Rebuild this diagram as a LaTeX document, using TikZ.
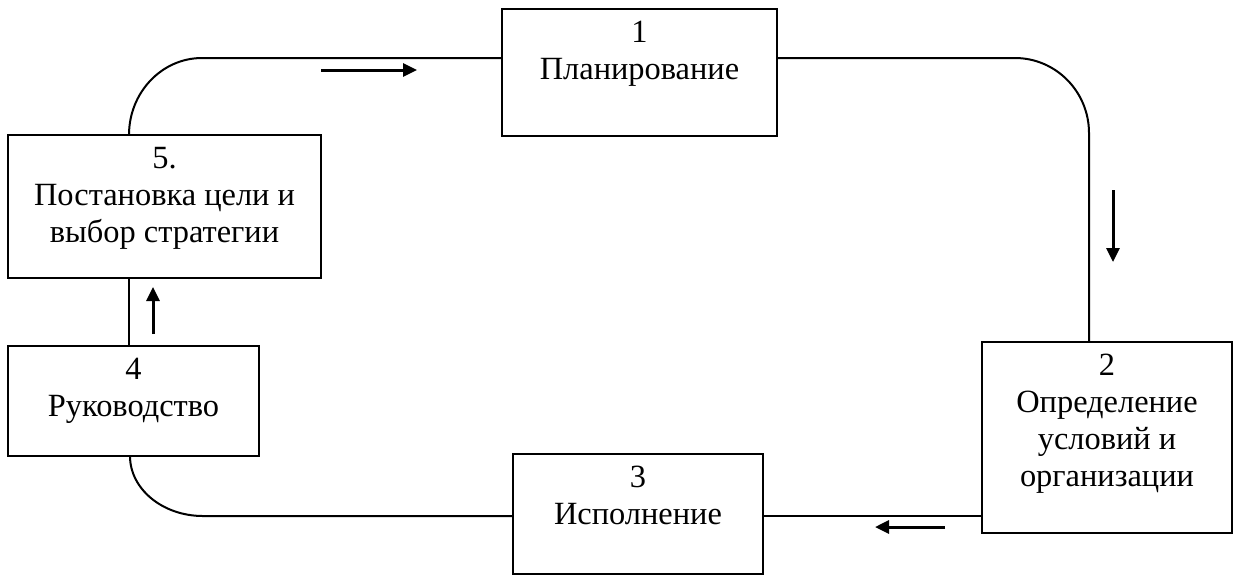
\documentclass[tikz,border=0pt]{standalone}
\usepackage{fontspec}
\setmainfont{Liberation Serif}
\usetikzlibrary{calc,arrows.meta}
\newcommand{\tstrut}{\rule{0pt}{13pt}}
\begin{document}
\begin{tikzpicture}[x=0.5pt,y=-0.5pt,
  box/.style={draw, line width=1.2pt, inner sep=0pt, outer sep=0pt, anchor=north west},
  lbl/.style={anchor=north, inner sep=0pt, align=center, font=\fontsize{16.2}{18.5}\selectfont},
  conn/.style={line width=1pt},
  flow/.style={line width=1.5pt, -{Triangle[length=7pt,width=6.5pt]}}]
\useasboundingbox (0,0) rectangle (1241,575);
% boxes
\node[box, minimum width=137.5pt, minimum height=63.5pt] (b1) at (502,9) {};
\node[box, minimum width=125pt, minimum height=95.5pt] (b2) at (982,342) {};
\node[box, minimum width=125pt, minimum height=60pt] (b3) at (513,454) {};
\node[box, minimum width=125.5pt, minimum height=55pt] (b4) at (8,346) {};
\node[box, minimum width=156.5pt, minimum height=71.5pt] (b5) at (8,135) {};
% labels
\node[lbl] (t1) at ($(b1.north)+(0,7)$) {\tstrut 1\\Планирование};
\node[lbl] (t2) at ($(b2.north)+(0,7)$) {\tstrut 2\\Определение\\условий и\\организации};
\node[lbl] (t3) at ($(b3.north)+(0,7)$) {\tstrut 3\\Исполнение};
\node[lbl] (t4) at ($(b4.north)+(0,7)$) {\tstrut 4\\Руководство};
\node[lbl] (t5) at ($(b5.north)+(0,7)$) {\tstrut 5.\\Постановка цели и\\выбор стратегии};
% connectors
\draw[conn] ($(b5.north west)+(121,0)$) .. controls +(0,-42.5) and +(-40.3,0) .. ++(73,-77) -- ($(b1.north west)+(0,49)$);
\draw[conn] ($(b1.north east)+(0,49)$) -- ++(238,0) .. controls +(40.8,0) and +(0,-41.4) .. ++(74,75) -- ($(b2.north west)+(107,0)$);
\draw[conn] ($(b2.north west)+(0,174)$) -- ($(b3.north east)+(0,62)$);
\draw[conn] ($(b3.north west)+(0,62)$) -- ++(-310,0) .. controls +(-40.3,0) and +(0,33.1) .. ($(b4.south west)+(122,0)$);
\draw[conn] ($(b4.north west)+(121,0)$) -- ($(b5.south west)+(121,0)$);
% direction arrows
\coordinate (a1s) at (321,70); \coordinate (a1e) at (417,70);
\coordinate (a2s) at (1113,190); \coordinate (a2e) at (1113,262);
\coordinate (a3s) at (945,527); \coordinate (a3e) at (875,527);
\coordinate (a4s) at (153,334); \coordinate (a4e) at (153,287);
\draw[flow] (a1s) -- (a1e);
\draw[flow] (a2s) -- (a2e);
\draw[flow] (a3s) -- (a3e);
\draw[flow] (a4s) -- (a4e);
\end{tikzpicture}
\end{document}
